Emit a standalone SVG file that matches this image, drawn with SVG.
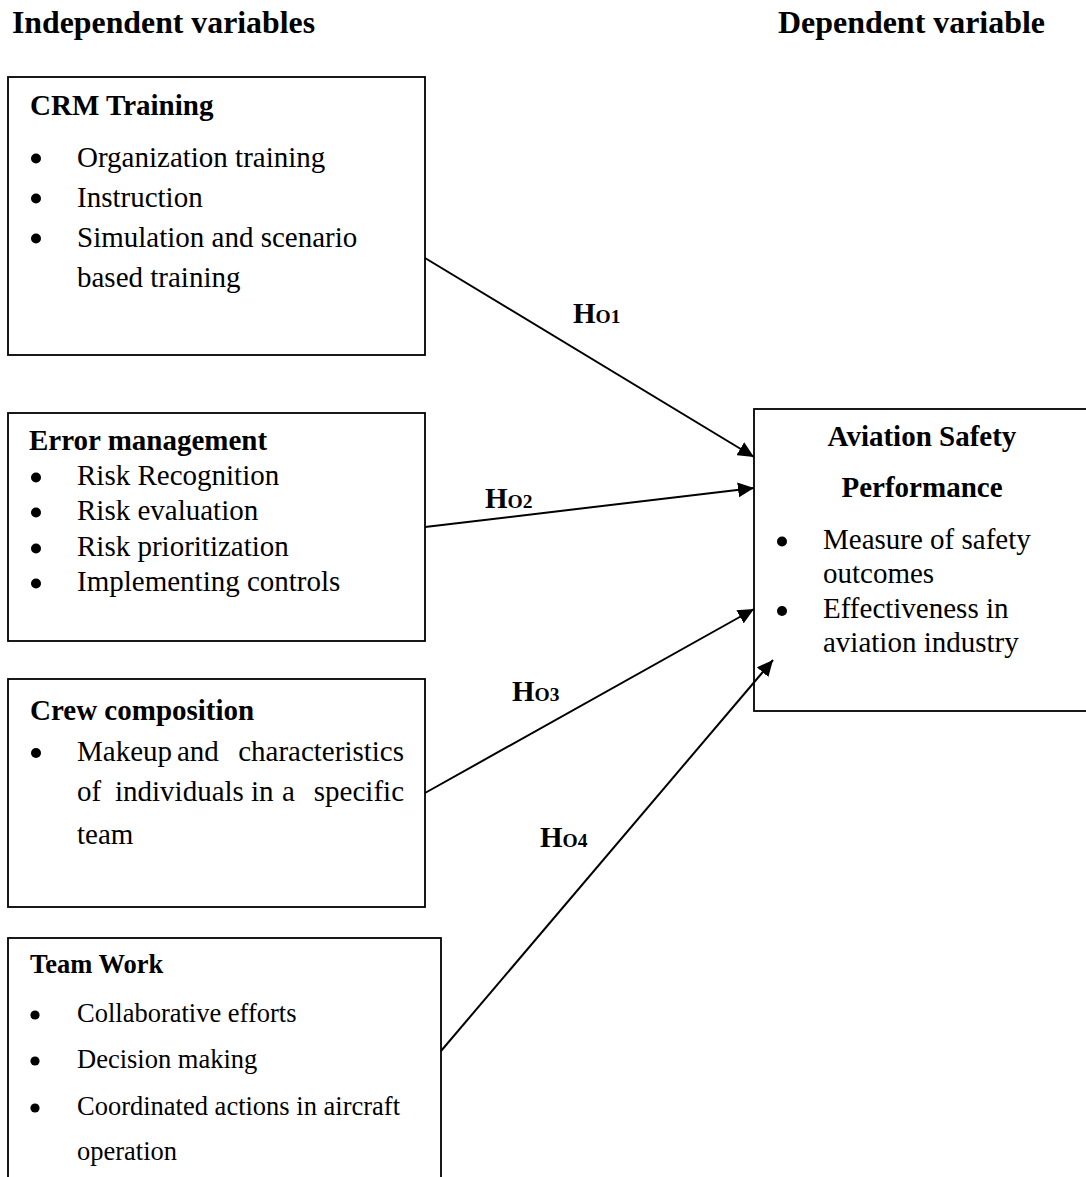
<svg xmlns="http://www.w3.org/2000/svg" width="1086" height="1177" viewBox="0 0 1086 1177">
<style>
  text { font-family: "Liberation Serif", "Times New Roman", serif; fill: #000; }
  .t { font-size: 32px; font-weight: bold; }
  .h { font-size: 29px; font-weight: bold; }
  .b { font-size: 29px; }
  .hs { font-size: 26.5px; font-weight: bold; }
  .bs { font-size: 26.5px; }
  .dot { fill: #000; }
  .box { fill: #fff; stroke: #000; stroke-width: 1.8; }
  .lab { font-size: 29px; font-weight: bold; }
  .sub { font-size: 19.5px; }
  .conn { stroke: #000; stroke-width: 2; fill: none; marker-end: url(#arr); }
</style>
<defs>
  <marker id="arr" viewBox="0 0 16 15" refX="16" refY="7.5" markerWidth="16" markerHeight="15" markerUnits="userSpaceOnUse" orient="auto">
    <path d="M0,0 L16,7.5 L0,15 Z" fill="#000"/>
  </marker>
</defs>
<rect width="1086" height="1177" fill="#fff"/>

<text class="t" x="12" y="33" textLength="303" lengthAdjust="spacingAndGlyphs">Independent variables</text>
<text class="t" x="778" y="33" textLength="267" lengthAdjust="spacingAndGlyphs">Dependent variable</text>

<g id="crm-training">
  <rect class="box" x="8" y="77" width="417" height="278"/>
  <text class="h" x="30" y="115">CRM Training</text>
  <circle class="dot" cx="36" cy="158.5" r="5"/>
  <text class="b" x="77" y="167">Organization training</text>
  <circle class="dot" cx="36" cy="198.5" r="5"/>
  <text class="b" x="77" y="207">Instruction</text>
  <circle class="dot" cx="36" cy="238.5" r="5"/>
  <text class="b" x="77" y="247">Simulation and scenario</text>
  <text class="b" x="77" y="287">based training</text>
</g>

<g id="error-management">
  <rect class="box" x="8" y="413" width="417" height="228"/>
  <text class="h" x="29" y="450">Error management</text>
  <circle class="dot" cx="36" cy="477.5" r="5"/>
  <text class="b" x="77" y="485">Risk Recognition</text>
  <circle class="dot" cx="36" cy="512.5" r="5"/>
  <text class="b" x="77" y="520">Risk evaluation</text>
  <circle class="dot" cx="36" cy="548.5" r="5"/>
  <text class="b" x="77" y="556">Risk prioritization</text>
  <circle class="dot" cx="36" cy="583.5" r="5"/>
  <text class="b" x="77" y="591">Implementing controls</text>
</g>

<g id="crew-composition">
  <rect class="box" x="8" y="679" width="417" height="228"/>
  <text class="h" x="30" y="720">Crew composition</text>
  <circle class="dot" cx="36" cy="753" r="5"/>
  <text class="b" y="761"><tspan x="77">Makeup</tspan><tspan x="177">and</tspan></text>
  <text class="b" x="404" y="761" text-anchor="end">characteristics</text>
  <text class="b" y="801"><tspan x="77">of</tspan><tspan x="115">individuals</tspan><tspan x="251">in</tspan><tspan x="282">a</tspan></text>
  <text class="b" x="404" y="801" text-anchor="end">specific</text>
  <text class="b" x="77" y="844">team</text>
</g>

<g id="team-work">
  <rect class="box" x="8" y="938" width="433" height="245"/>
  <text class="hs" x="30" y="973">Team Work</text>
  <circle class="dot" cx="35" cy="1015" r="4.6"/>
  <text class="bs" x="77" y="1022">Collaborative efforts</text>
  <circle class="dot" cx="35" cy="1061" r="4.6"/>
  <text class="bs" x="77" y="1068">Decision making</text>
  <circle class="dot" cx="35" cy="1108" r="4.6"/>
  <text class="bs" x="77" y="1115">Coordinated actions in aircraft</text>
  <text class="bs" x="77" y="1160">operation</text>
</g>

<g id="aviation-safety-performance">
  <rect class="box" x="754" y="409" width="340" height="302"/>
  <text class="h" x="922" y="446" text-anchor="middle">Aviation Safety</text>
  <text class="h" x="922" y="497" text-anchor="middle">Performance</text>
  <circle class="dot" cx="782" cy="541.5" r="5"/>
  <text class="b" x="823" y="549">Measure of safety</text>
  <text class="b" x="823" y="583">outcomes</text>
  <circle class="dot" cx="782" cy="611" r="5"/>
  <text class="b" x="823" y="618">Effectiveness in</text>
  <text class="b" x="823" y="652">aviation industry</text>
</g>

<g id="connectors">
  <line class="conn" x1="425" y1="258" x2="754" y2="457"/>
  <line class="conn" x1="425" y1="527" x2="754" y2="488"/>
  <line class="conn" x1="425" y1="793" x2="754" y2="609"/>
  <line class="conn" x1="441" y1="1051" x2="773" y2="660"/>
  <text class="lab" x="573" y="323">H<tspan class="sub">O1</tspan></text>
  <text class="lab" x="485" y="508">H<tspan class="sub">O2</tspan></text>
  <text class="lab" x="512" y="701">H<tspan class="sub">O3</tspan></text>
  <text class="lab" x="540" y="847">H<tspan class="sub">O4</tspan></text>
</g>
</svg>
